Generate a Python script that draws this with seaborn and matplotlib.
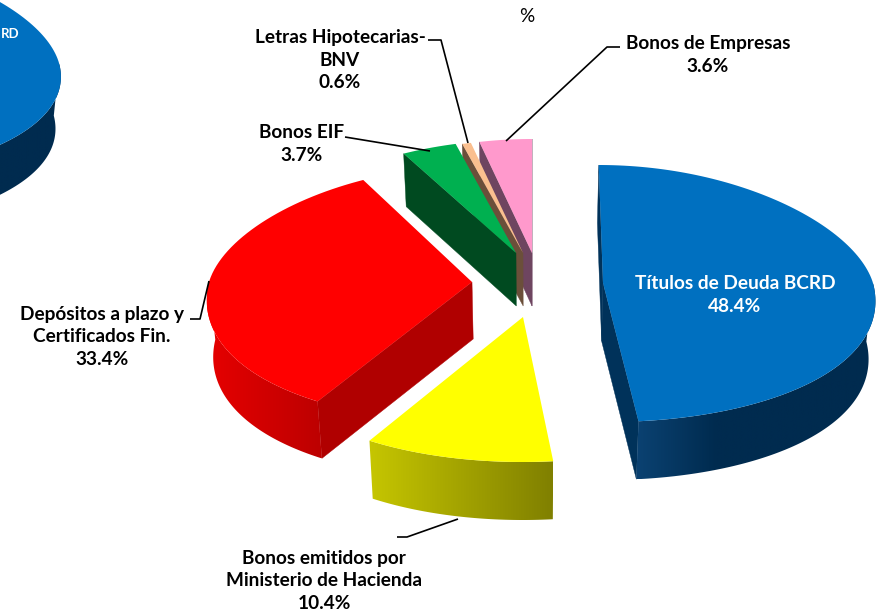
import numpy as np
import seaborn as sns
import matplotlib
matplotlib.use("Agg")
import matplotlib.pyplot as plt
from matplotlib.patches import Polygon
from matplotlib.path import Path
from matplotlib.transforms import Affine2D, Transform

# ------ DATA ------
categories = ["Títulos de Deuda BCRD", "Bonos emitidos por\nMinisterio de Hacienda",
              "Depósitos a plazo y\nCertificados Fin.", "Bonos EIF",
              "Letras Hipotecarias-\nBNV", "Bonos de Empresas"]
values = [48.4, 10.4, 33.4, 3.7, 0.6, 3.6]
top_colors = ["#0070c0", "#ffff00", "#ff0000", "#00b050", "#fabf8f", "#ff99cc"]
cut_colors = ["#00325a", "#808000", "#b00000", "#004a20", "#6b4f3a", "#6e4560"]
wall_colors = [["#0b4272", "#002b4f", "#002b4f", "#002b4f"], ["#c6c600", "#808000"],
               ["#e60000", "#bc0000"], ["#004a20"], ["#6b4f3a"], ["#6e4560"]]

# ------ LAYOUT (pixels) ------
# apex of each exploded slice, radii of the tilted ellipse, wall height
slices = [dict(x=603, y=283, a=270, b_top=118, b_bot=139, depth=58),
          dict(x=523, y=317, a=266, b_top=118, b_bot=145, depth=58),
          dict(x=472, y=282, a=263, b_top=116, b_bot=140, depth=57),
          dict(x=516, y=253, a=266, b_top=113, b_bot=130, depth=53),
          dict(x=523, y=253, a=266, b_top=113, b_bot=130, depth=53),
          dict(x=532, y=253, a=266, b_top=114, b_bot=130, depth=53)]
ghost = dict(x=-210, y=63, a=269, b_top=111, b_bot=118, depth=52, vx=-210)
draw_order = [5, 4, 3, 2, 1, 0]
TAPER = 0.12
VANISH_X = 532

label_pos = [(735, 295), (324, 581), (102, 337), (302, 144), (340, 60), (708, 55)]
leaders = [None,
           [(397, 537), (407, 537), (458, 519)],
           [(190, 319), (200, 319), (209, 281)],
           [(345, 137), (430, 151)],
           [(428, 40), (441, 40), (468, 143)],
           [(620, 47), (607, 47), (506, 141)]]


def project(u, v, p, drop=0.0):
    vx = p.get("vx", VANISH_X)
    a = p["a"] * (1 - TAPER * v)
    b = np.where(v > 0, p["b_top"], p["b_bot"])
    x = p["x"] + a * u - 0.06 * (p["x"] - vx) * v
    y = p["y"] - b * v + drop
    if drop:
        x = x + (vx - x) * 0.02
    return np.column_stack([x, y])


class Tilted(Transform):
    input_dims = 2
    output_dims = 2

    def __init__(self, p):
        super().__init__()
        self.p = p

    def transform_non_affine(self, xy):
        xy = np.asarray(xy)
        return project(xy[:, 0], xy[:, 1], self.p)

    def transform_path_non_affine(self, path):
        poly = path.to_polygons(Affine2D().scale(800), closed_only=True)[0] / 800
        return Path(project(poly[:, 0], poly[:, 1], self.p))


def draw_side(ax, wedge, p, cut, wall, z):
    t1, t2 = np.radians(wedge.theta1), np.radians(wedge.theta2)
    # cut faces from apex to rim, only the ones turned to the viewer
    for t, facing in ((t1, -np.cos(t1)), (t2, np.cos(t2))):
        if facing > 1e-6:
            continue
        rim = np.array([[0, 0], [np.cos(t), np.sin(t)]])
        pts = np.vstack([project(rim[:, 0], rim[:, 1], p),
                         project(rim[::-1, 0], rim[::-1, 1], p, p["depth"])])
        ax.fill(pts[:, 0], pts[:, 1], color=cut, lw=0.3, zorder=z)
    # outer wall, front part only
    t = np.linspace(t1, t2, 300)
    t = t[np.sin(t) <= 0]
    if len(t) < 2:
        return
    upper = project(np.cos(t), np.sin(t), p)
    lower = project(np.cos(t), np.sin(t), p, p["depth"])
    pts = np.vstack([upper, lower[::-1]])
    x0, x1 = pts[:, 0].min(), pts[:, 0].max()
    y0, y1 = pts[:, 1].min(), pts[:, 1].max()
    cmap = sns.blend_palette(wall if len(wall) > 1 else wall * 2, as_cmap=True)
    shape = Polygon(pts, facecolor="none", edgecolor="none", zorder=z + 0.1)
    ax.add_patch(shape)
    im = ax.imshow(np.linspace(0, 1, 256)[None, :], cmap=cmap, aspect="auto",
                   extent=(x0, x1, y1, y0), zorder=z + 0.1)
    im.set_clip_path(shape)


sns.set_theme(style="white")
plt.rcParams["font.family"] = ["Lato", "DejaVu Sans"]

fig = plt.figure(figsize=(8.77, 6.14), dpi=100, facecolor="white")
ax = fig.add_axes([0, 0, 1, 1])

# slice of the neighbouring pie that is cut by the left edge
w_ghost, _ = ax.pie([values[0], 100 - values[0]], colors=[top_colors[0], "none"],
                    startangle=90, counterclock=False)
w_ghost[0].set_transform(Tilted(ghost) + ax.transData)
w_ghost[0].set_linewidth(0)
w_ghost[0].set_zorder(1.2)
w_ghost[1].set_visible(False)
draw_side(ax, w_ghost[0], ghost, wall_colors[0][-1], [wall_colors[0][-1]], 1)
ax.text(1, 34, "RD", color="white", fontsize=9.5, fontweight="bold", ha="left", va="center", zorder=21)

# the exploded pie
wedges, _ = ax.pie(values, colors=top_colors, startangle=90, counterclock=False)
for rank, i in enumerate(draw_order):
    z = 2 + rank
    wedges[i].set_transform(Tilted(slices[i]) + ax.transData)
    wedges[i].set_linewidth(0)
    wedges[i].set_zorder(z + 0.2)
    draw_side(ax, wedges[i], slices[i], cut_colors[i], wall_colors[i], z)

# labels and leader lines
for i, name in enumerate(categories):
    ax.text(label_pos[i][0], label_pos[i][1], f"{name}\n{values[i]}%",
            color="white" if i == 0 else "black", fontsize=13.7, fontweight="bold",
            ha="center", va="center", linespacing=1.42, zorder=21)
    if leaders[i]:
        xs, ys = zip(*leaders[i])
        ax.plot(xs, ys, color="black", lw=1.2, zorder=20, solid_capstyle="butt")

ax.text(527, 17, "%", color="black", fontsize=13.7, ha="center", va="center", zorder=21)

ax.set_aspect("auto")
ax.set_xlim(0, 877)
ax.set_ylim(614, 0)
ax.axis("off")

fig.savefig("out.png", dpi=100)
